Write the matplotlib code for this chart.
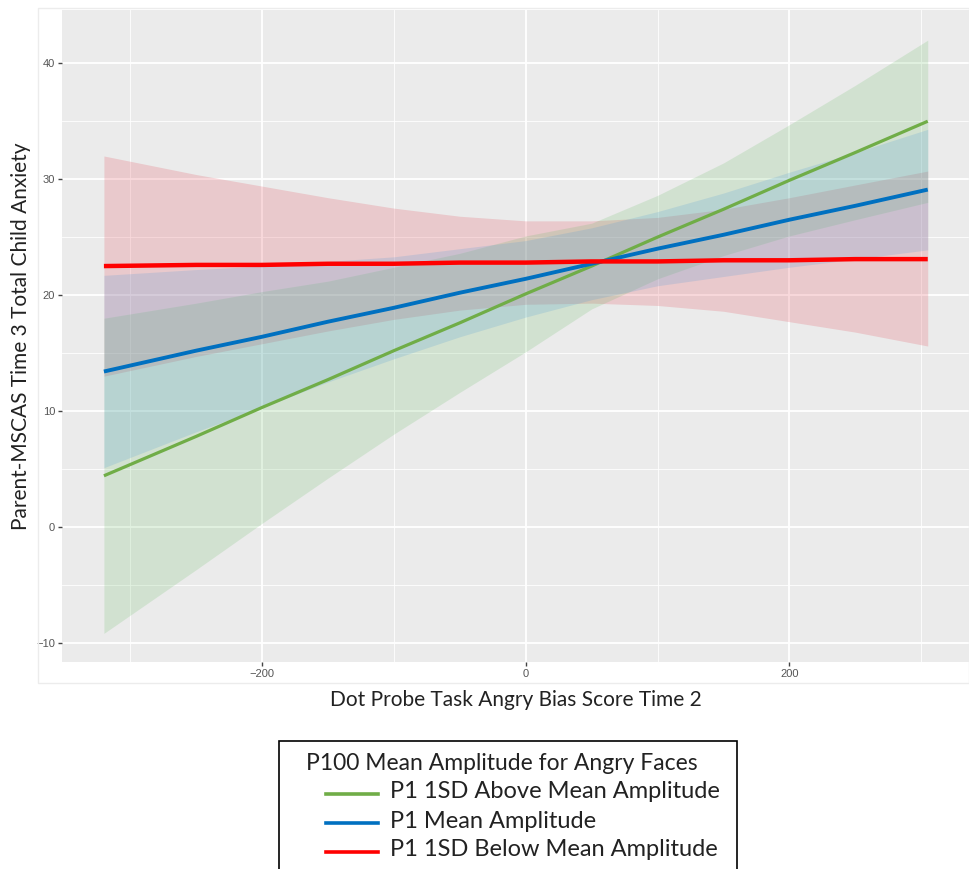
import numpy as np
import matplotlib.pyplot as plt
from matplotlib.lines import Line2D
from matplotlib.patches import Rectangle

# values
bias = [-320, -250, -200, -150, -100, -50, 0, 50, 100, 150, 200, 250, 305]

above_fit = [4.4, 7.8, 10.3, 12.7, 15.2, 17.6, 20.1, 22.5, 25.0, 27.4, 29.9, 32.3, 35.0]
above_hi = [18.0, 19.3, 20.3, 21.2, 22.4, 23.6, 25.1, 26.2, 28.6, 31.4, 34.7, 38.1, 42.0]
above_lo = [-9.2, -3.7, 0.3, 4.2, 8.0, 11.6, 15.1, 18.8, 21.4, 23.4, 25.1, 26.5, 28.0]

mean_fit = [13.4, 15.2, 16.4, 17.7, 18.9, 20.2, 21.4, 22.7, 24.0, 25.2, 26.5, 27.7, 29.1]
mean_hi = [21.7, 22.2, 22.5, 22.9, 23.3, 24.0, 24.7, 25.8, 27.2, 28.8, 30.6, 32.3, 34.3]
mean_lo = [5.1, 8.2, 10.3, 12.5, 14.5, 16.4, 18.1, 19.6, 20.8, 21.6, 22.4, 23.1, 23.9]

below_fit = [22.5, 22.6, 22.6, 22.7, 22.7, 22.8, 22.8, 22.9, 22.9, 23.0, 23.0, 23.1, 23.1]
below_hi = [32.0, 30.4, 29.4, 28.4, 27.5, 26.8, 26.4, 26.4, 26.7, 27.4, 28.4, 29.5, 30.7]
below_lo = [13.0, 14.7, 15.8, 16.9, 17.9, 18.7, 19.2, 19.3, 19.1, 18.6, 17.7, 16.8, 15.6]

legend_title = "P100 Mean Amplitude for Angry Faces"
labels = ["P1 1SD Above Mean Amplitude", "P1 Mean Amplitude", "P1 1SD Below Mean Amplitude"]
line_cols = ["#70AD47", "#0070C0", "#FF0000"]
band_cols = ["#5DB85A", "#4F9BD8", "#E14150"]

W, H = 969, 869
fig = plt.figure(figsize=(W / 100, H / 100), dpi=100)

# faint outer plot frame
fig.patches.append(Rectangle((38 / W, 1 - 683 / H), (W - 38) / W, (683 - 8) / H,
                             transform=fig.transFigure, fill=False,
                             edgecolor="#ececec", lw=1))

ax = fig.add_axes([62 / W, 1 - 662 / H, (W - 62) / W, (662 - 10) / H])
ax.set_facecolor("#EBEBEB")
for s in ax.spines.values():
    s.set_visible(False)

ax.set_xlim(-351.8, 336.3)
ax.set_ylim(-11.67, 44.6)
ax.set_xticks([-200, 0, 200])
ax.set_xticks([-300, -100, 100, 300], minor=True)
ax.set_yticks([-10, 0, 10, 20, 30, 40])
ax.set_yticks([-5, 5, 15, 25, 35], minor=True)
ax.grid(which="major", color="white", lw=1.3)
ax.grid(which="minor", color="white", lw=0.6)
ax.set_axisbelow(True)
ax.tick_params(which="major", length=3, width=1, color="#444444",
               labelcolor="#555555", labelsize=8, pad=2)
ax.tick_params(which="minor", length=0)
for t in ax.get_xticklabels() + ax.get_yticklabels():
    t.set_family("Liberation Sans")

fits = [above_fit, mean_fit, below_fit]
his = [above_hi, mean_hi, below_hi]
los = [above_lo, mean_lo, below_lo]
alphas = [0.18, 0.2, 0.2]

for i in [2, 0, 1]:
    ax.fill_between(bias, los[i], his[i], color=band_cols[i], alpha=alphas[i], lw=0)

widths = [2.3, 2.8, 3.2]
for i in range(3):
    ax.plot(bias, fits[i], color=line_cols[i], lw=widths[i], solid_capstyle="butt", zorder=3 + i)

ax.set_xlabel("Dot Probe Task Angry Bias Score Time 2", family="Lato", fontsize=15, color="#222222", labelpad=8)
ax.set_ylabel("Parent-MSCAS Time 3 Total Child Anxiety", family="Lato", fontsize=15, color="#222222", labelpad=4)

# legend box, bottom edge runs off the picture like the reference
fig.patches.append(Rectangle((279 / W, -0.05), (737 - 279) / W, 0.05 + 1 - 741 / H,
                             transform=fig.transFigure, fill=False, edgecolor="black", lw=1.2))
fig.text(306 / W, 1 - 763 / H, legend_title, family="Lato", fontsize=16.5,
         color="#222222", va="center", ha="left")
rows = [794, 823, 852]
for lab, col, yp in zip(labels, line_cols, rows):
    fig.lines.append(Line2D([326 / W, 378 / W], [1 - yp / H, 1 - yp / H],
                            transform=fig.transFigure, color=col, lw=2.6))
    fig.text(390 / W, 1 - (yp - 2) / H, lab, family="Lato", fontsize=17,
             color="#222222", va="center", ha="left")

fig.savefig("out.png", dpi=100)
